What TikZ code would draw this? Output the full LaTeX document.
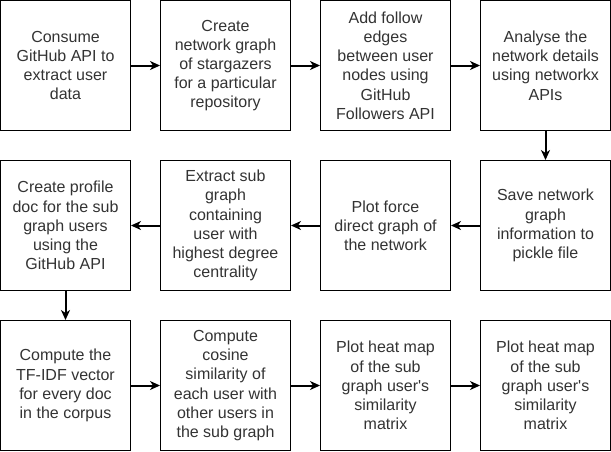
\documentclass[tikz,border=0pt]{standalone}
\usepackage{fontspec}
\setmainfont{Liberation Sans}
\usetikzlibrary{arrows.meta}
\begin{document}
\begin{tikzpicture}[x=1pt,y=-1pt,
  stepbox/.style={draw=black,line width=1pt,fill=white,minimum width=130pt,minimum height=130pt,
    inner sep=0pt,align=center,text=black!80,font=\fontsize{16}{19.2}\selectfont},
  flow/.style={line width=2pt,-{Stealth[length=10pt,width=9pt,inset=3pt]}}]
\useasboundingbox (0,0) rectangle (611,451);
\node[stepbox] (a1) at (65.5,65.5) {Consume\\GitHub API to\\extract user\\data};
\node[stepbox] (a2) at (225.5,65.5) {Create\\network graph\\of stargazers\\for a particular\\repository};
\node[stepbox] (a3) at (385.5,65.5) {Add follow\\edges\\between user\\nodes using\\GitHub\\Followers API};
\node[stepbox] (a4) at (545.5,65.5) {Analyse the\\network details\\using networkx\\APIs};
\node[stepbox] (b1) at (65.5,225.5) {Create profile\\doc for the sub\\graph users\\using the\\GitHub API};
\node[stepbox] (b2) at (225.5,225.5) {Extract sub\\graph\\containing\\user with\\highest degree\\centrality};
\node[stepbox] (b3) at (385.5,225.5) {Plot force\\direct graph of\\the network};
\node[stepbox] (b4) at (545.5,225.5) {Save network\\graph\\information to\\pickle file};
\node[stepbox] (c1) at (65.5,385.5) {Compute the\\TF-IDF vector\\for every doc\\in the corpus};
\node[stepbox] (c2) at (225.5,385.5) {Compute\\cosine\\similarity of\\each user with\\other users in\\the sub graph};
\node[stepbox] (c3) at (385.5,385.5) {Plot heat map\\of the sub\\graph user\textquotesingle s\\similarity\\matrix};
\node[stepbox] (c4) at (545.5,385.5) {Plot heat map\\of the sub\\graph user\textquotesingle s\\similarity\\matrix};
\draw[flow] (a1) -- (a2);
\draw[flow] (a2) -- (a3);
\draw[flow] (a3) -- (a4);
\draw[flow] (a4) -- (b4);
\draw[flow] (b4) -- (b3);
\draw[flow] (b3) -- (b2);
\draw[flow] (b2) -- (b1);
\draw[flow] (b1) -- (c1);
\draw[flow] (c1) -- (c2);
\draw[flow] (c2) -- (c3);
\draw[flow] (c3) -- (c4);
\end{tikzpicture}
\end{document}
